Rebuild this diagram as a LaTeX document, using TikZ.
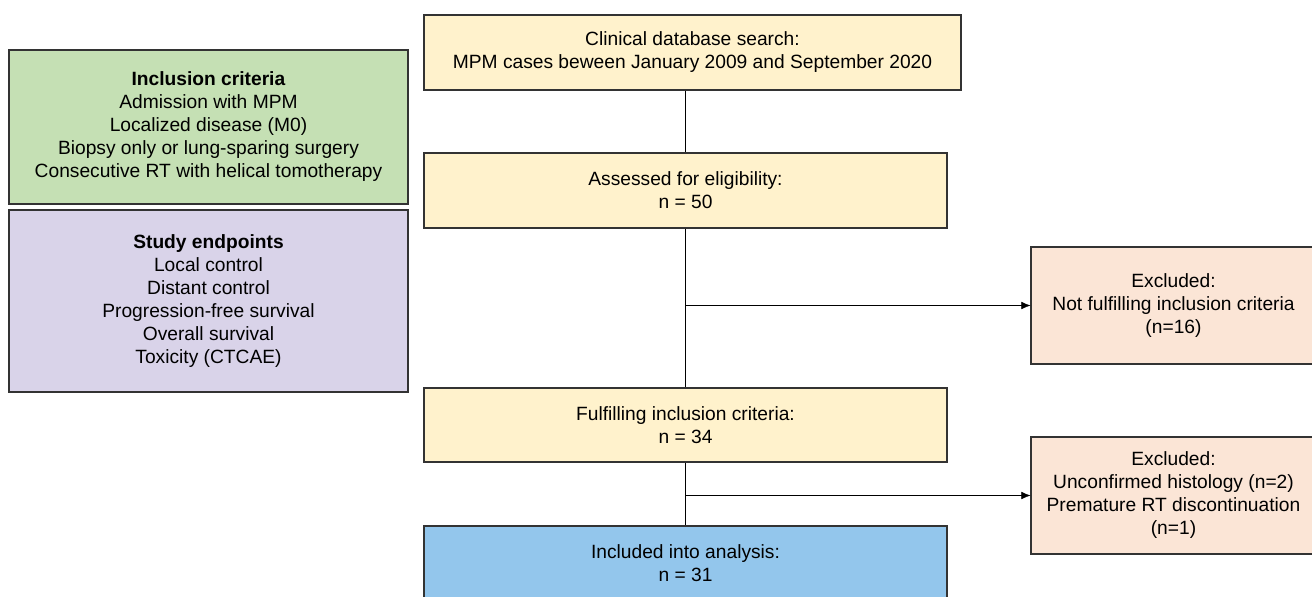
\documentclass[tikz,border=0pt]{standalone}
\usepackage{fontspec}
\setmainfont{Liberation Sans}
\usepackage{tikz}
\usetikzlibrary{arrows.meta}

\definecolor{critgreen}{HTML}{C5E0B4}
\definecolor{endlilac}{HTML}{D9D3E9}
\definecolor{flowyellow}{HTML}{FFF2CC}
\definecolor{exclpeach}{HTML}{FBE5D6}
\definecolor{inclblue}{HTML}{93C6EC}

\begin{document}
\begin{tikzpicture}[x=1pt,y=-1pt,
  box/.style={draw=black!80,line width=1.1pt,align=center,inner sep=0pt,
    font=\fontsize{19.2}{23}\selectfont},
  >={Latex[length=9pt,width=7.5pt]}]
\useasboundingbox (0,0) rectangle (1312,597);

% left info boxes
\node[box,fill=critgreen,minimum width=399pt,minimum height=154pt] (crit) at (208.5,127)
  {\textbf{Inclusion criteria}\\Admission with MPM\\Localized disease (M0)\\Biopsy only or lung-sparing surgery\\Consecutive RT with helical tomotherapy};
\node[box,fill=endlilac,minimum width=399pt,minimum height=182pt] (endp) at (208.5,301)
  {\textbf{Study endpoints}\\Local control\\Distant control\\Progression-free survival\\Overall survival\\Toxicity (CTCAE)};

% flow
\node[box,fill=flowyellow,minimum width=537pt,minimum height=75pt] (search) at (692.5,52.5)
  {Clinical database search:\\MPM cases beween January 2009 and September 2020};
\node[box,fill=flowyellow,minimum width=523pt,minimum height=75pt] (assess) at (685.5,190.5)
  {Assessed for eligibility:\\n = 50};
\node[box,fill=flowyellow,minimum width=523pt,minimum height=74pt] (fulfil) at (685.5,425)
  {Fulfilling inclusion criteria:\\n = 34};
\node[box,fill=inclblue,minimum width=523pt,minimum height=75pt] (analysis) at (685.5,563.5)
  {Included into analysis:\\n = 31};
\node[box,fill=exclpeach,minimum width=285pt,minimum height=117pt] (excl1) at (1173.5,305.5)
  {Excluded:\\Not fulfilling inclusion criteria\\(n=16)};
\node[box,fill=exclpeach,minimum width=285pt,minimum height=117pt] (excl2) at (1173.5,495.5)
  {Excluded:\\Unconfirmed histology (n=2)\\Premature RT discontinuation\\(n=1)};

\draw[thin] (search.south -| assess.north) -- (assess.north);
\draw[thin] (assess.south) -- (fulfil.north);
\draw[thin] (fulfil.south) -- (analysis.north);
\draw[thin,->] (assess.south |- excl1.west) -- (excl1.west);
\draw[thin,->] (fulfil.south |- excl2.west) -- (excl2.west);
\end{tikzpicture}
\end{document}
